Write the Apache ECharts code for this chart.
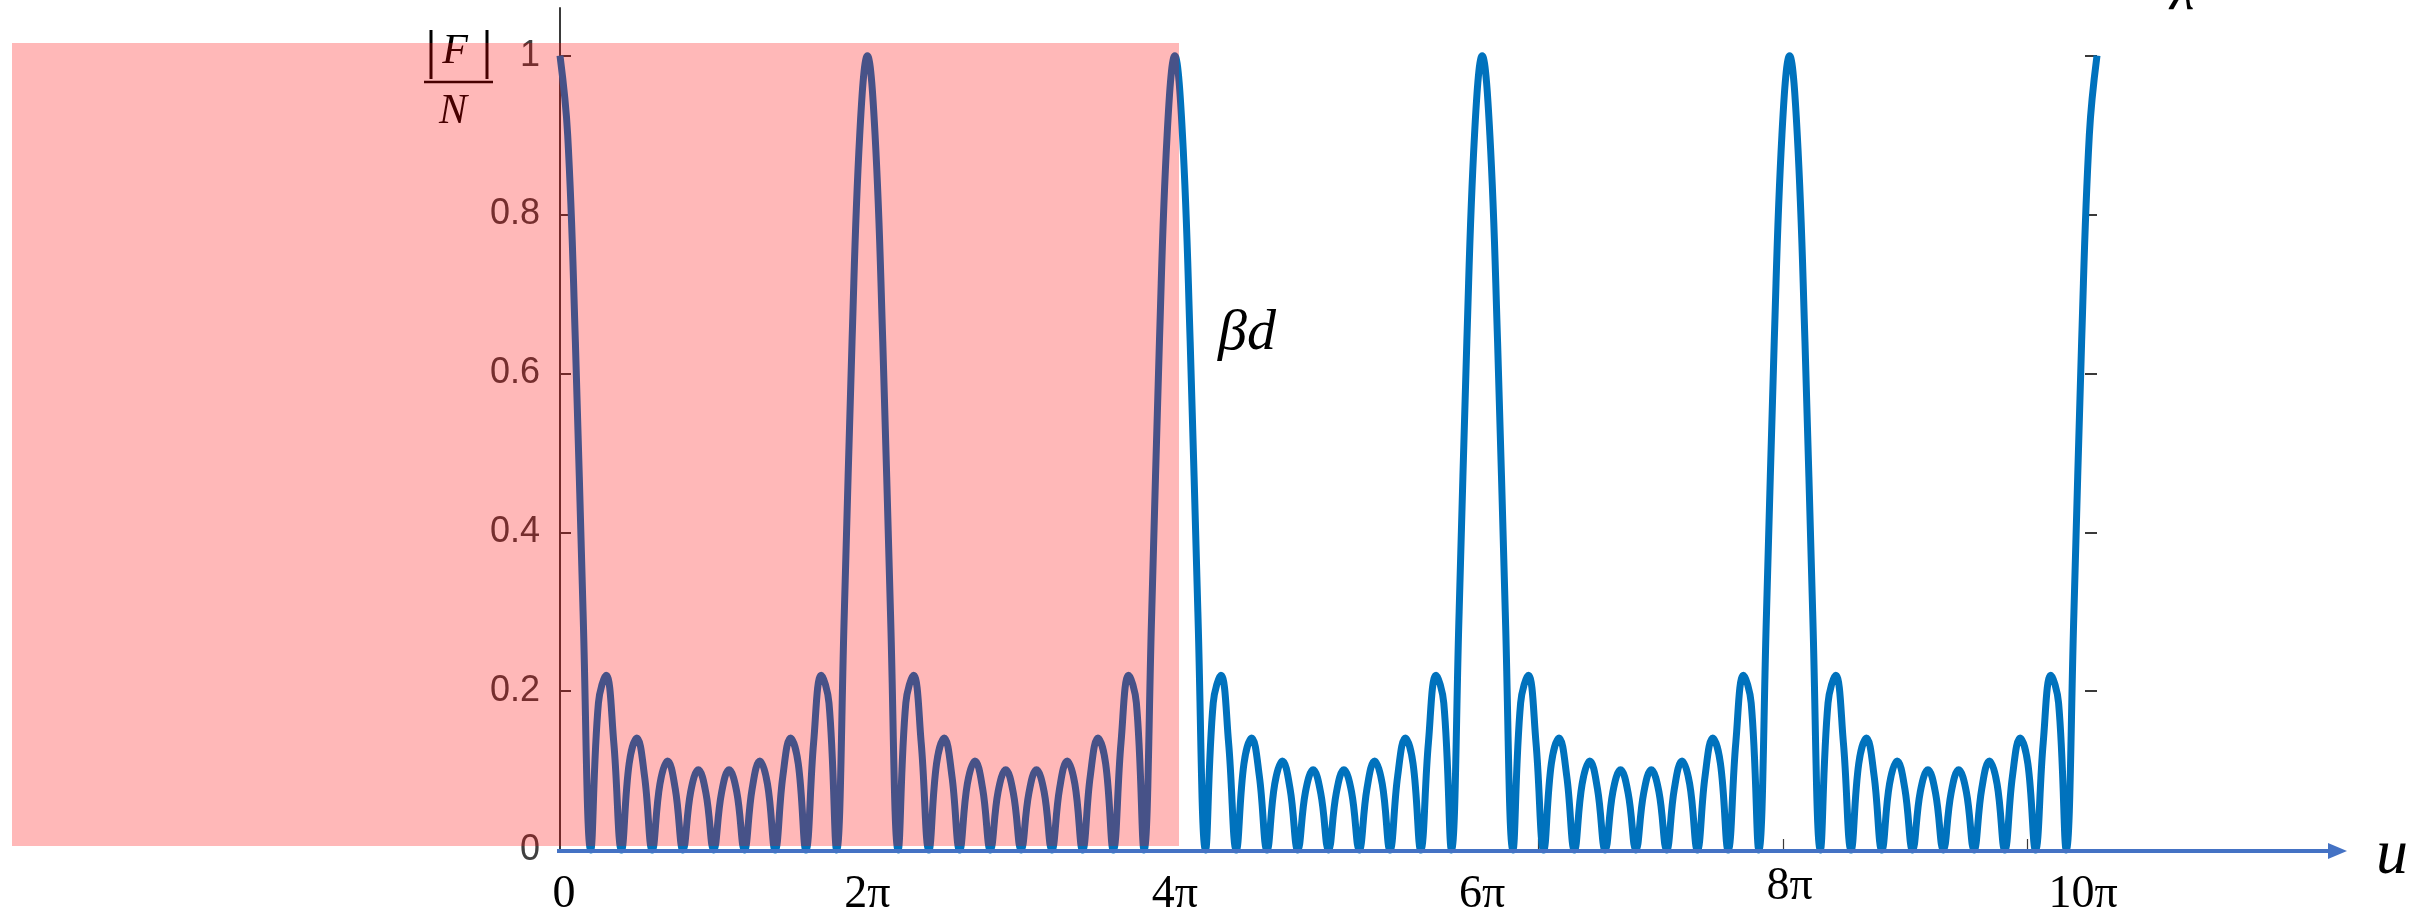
<!DOCTYPE html>
<html>
<head>
<meta charset="utf-8">
<title>Array factor |F|/N</title>
<script src="https://cdn.jsdelivr.net/npm/echarts@6/dist/echarts.min.js"></script>
<style>
  html, body { margin: 0; padding: 0; background: #fff; }
  #main { width: 2433px; height: 913px; }
</style>
</head>
<body>
<div id="main"></div>
<script>
// |F|/N, one sample every pi/20 from u = 0 to u = 10pi
const uStep = Math.PI / 20;
const afValues = [
  1, 0.90, 0.64, 0.30, 0, 0.185, 0.22, 0.135, 0, 0.109, 0.141, 0.093, 0, 0.083, 0.112, 0.077, 0, 0.073, 0.101, 0.071,
  0, 0.071, 0.101, 0.073, 0, 0.077, 0.112, 0.083, 0, 0.093, 0.141, 0.109, 0, 0.135, 0.22, 0.185, 0, 0.30, 0.64, 0.90,
  1, 0.90, 0.64, 0.30, 0, 0.185, 0.22, 0.135, 0, 0.109, 0.141, 0.093, 0, 0.083, 0.112, 0.077, 0, 0.073, 0.101, 0.071,
  0, 0.071, 0.101, 0.073, 0, 0.077, 0.112, 0.083, 0, 0.093, 0.141, 0.109, 0, 0.135, 0.22, 0.185, 0, 0.30, 0.64, 0.90,
  1, 0.90, 0.64, 0.30, 0, 0.185, 0.22, 0.135, 0, 0.109, 0.141, 0.093, 0, 0.083, 0.112, 0.077, 0, 0.073, 0.101, 0.071,
  0, 0.071, 0.101, 0.073, 0, 0.077, 0.112, 0.083, 0, 0.093, 0.141, 0.109, 0, 0.135, 0.22, 0.185, 0, 0.30, 0.64, 0.90,
  1, 0.90, 0.64, 0.30, 0, 0.185, 0.22, 0.135, 0, 0.109, 0.141, 0.093, 0, 0.083, 0.112, 0.077, 0, 0.073, 0.101, 0.071,
  0, 0.071, 0.101, 0.073, 0, 0.077, 0.112, 0.083, 0, 0.093, 0.141, 0.109, 0, 0.135, 0.22, 0.185, 0, 0.30, 0.64, 0.90,
  1, 0.90, 0.64, 0.30, 0, 0.185, 0.22, 0.135, 0, 0.109, 0.141, 0.093, 0, 0.083, 0.112, 0.077, 0, 0.073, 0.101, 0.071,
  0, 0.071, 0.101, 0.073, 0, 0.077, 0.112, 0.083, 0, 0.093, 0.141, 0.109, 0, 0.135, 0.22, 0.185, 0, 0.30, 0.64, 0.90,
  1
];
const yTicks = [0, 0.2, 0.4, 0.6, 0.8, 1];
const matlabXTicks = [5, 10, 15, 20, 25, 30];   // leftover ticks of the original plot (radians)
const xTickPi = [0, 2, 4, 6, 8, 10];
const xTickText = ['0', '2π', '4π', '6π', '8π', '10π'];

// label nudges, as in the picture
const xLabelDx = [4, 0, 0, 0, 0, -14];
const xLabelDy = [0, 0, 0, 0, -8, 0];

const seriesData = afValues.map((v, i) => [i * uStep, v]);

var myChart = echarts.init(document.getElementById('main'));
const axisGray = '#3a3a3a';

var option = {
  animation: false,
  backgroundColor: '#fff',
  grid: { left: 560, right: 336, top: 8, bottom: 63, containLabel: false },
  xAxis: {
    type: 'value',
    min: 0,
    max: 10 * Math.PI,
    axisLine: { show: false },
    splitLine: { show: false },
    axisLabel: { show: false },
    axisTick: {
      show: true, inside: true, length: 11,
      customValues: matlabXTicks,
      lineStyle: { color: axisGray, width: 1.2 }
    }
  },
  yAxis: [{
    type: 'value',
    min: 0,
    max: 1.06,
    splitLine: { show: false },
    axisLine: { show: true, lineStyle: { color: axisGray, width: 2 } },
    axisTick: {
      show: true, inside: true, length: 11,
      customValues: yTicks,
      lineStyle: { color: axisGray, width: 2 }
    },
    axisLabel: {
      customValues: yTicks,
      margin: 20,
      color: '#404040',
      fontSize: 36,
      fontFamily: 'Liberation Sans, Arial, sans-serif'
    }
  }, {
    type: 'value',
    position: 'right',
    min: 0,
    max: 1.06,
    splitLine: { show: false },
    axisLine: { show: false },
    axisTick: {
      show: true, inside: true, length: 12,
      customValues: yTicks,
      lineStyle: { color: axisGray, width: 2 }
    },
    axisLabel: { show: false }
  }],
  series: [{
    type: 'line',
    data: seriesData,
    showSymbol: false,
    smooth: 0.42,
    clip: false,
    lineStyle: { color: '#0072BD', width: 7 },
    z: 3
  }]
};
myChart.setOption(option);

// overlay texts, axis arrow and the pink box
const x0 = myChart.convertToPixel({ gridIndex: 0 }, [0, 0]);
const baseY = x0[1];
const serif = 'Liberation Serif, Times New Roman, serif';

const graphics = [];
xTickPi.forEach((k, i) => {
  const px = myChart.convertToPixel({ xAxisIndex: 0 }, k * Math.PI);
  graphics.push({
    type: 'text',
    x: px + xLabelDx[i],
    y: baseY + 45 + xLabelDy[i],
    z: 50,
    style: {
      text: xTickText[i],
      fill: '#000',
      font: '46px ' + serif,
      align: 'center',
      verticalAlign: 'middle'
    }
  });
});

// blue arrow axis
graphics.push({
  type: 'line', z: 40,
  shape: { x1: x0[0] - 3, y1: baseY + 1, x2: 2332, y2: baseY + 1 },
  style: { stroke: '#4472C4', lineWidth: 4 }
});
graphics.push({
  type: 'polygon', z: 40,
  shape: { points: [[2328, baseY - 7], [2347, baseY + 1], [2328, baseY + 9]] },
  style: { fill: '#4472C4' }
});
graphics.push({
  type: 'text', z: 50, x: 2392, y: baseY + 6,
  style: { text: 'u', fill: '#000', font: 'italic 64px ' + serif, align: 'center', verticalAlign: 'middle' }
});

// |F| / N
graphics.push({
  type: 'text', z: 50, x: 455, y: 52,
  style: { text: 'F', fill: '#000', font: 'italic 42px ' + serif, align: 'center', verticalAlign: 'middle' }
});
graphics.push({ type: 'line', z: 50, shape: { x1: 431, y1: 30, x2: 431, y2: 79 }, style: { stroke: '#000', lineWidth: 3 } });
graphics.push({ type: 'line', z: 50, shape: { x1: 487, y1: 30, x2: 487, y2: 79 }, style: { stroke: '#000', lineWidth: 3 } });
graphics.push({ type: 'line', z: 50, shape: { x1: 424, y1: 82, x2: 493, y2: 82 }, style: { stroke: '#000', lineWidth: 2.5 } });
graphics.push({
  type: 'text', z: 50, x: 453, y: 112,
  style: { text: 'N', fill: '#000', font: 'italic 42px ' + serif, align: 'center', verticalAlign: 'middle' }
});

// βd and the cut-off λ
graphics.push({
  type: 'text', z: 50, x: 1218, y: 334,
  style: { text: 'βd', fill: '#000', font: 'italic 58px ' + serif, align: 'left', verticalAlign: 'middle' }
});
graphics.push({
  type: 'text', z: 50, x: 2170, y: 22,
  style: { text: 'λ', fill: '#000', font: 'italic 56px ' + serif, align: 'left', verticalAlign: 'bottom' }
});

// translucent red box over the left part
graphics.push({
  type: 'rect', z: 100,
  shape: { x: 12, y: 43, width: 1167, height: 803 },
  style: { fill: 'rgba(255, 0, 0, 0.28)' }
});

myChart.setOption({ graphic: graphics });
</script>
</body>
</html>
